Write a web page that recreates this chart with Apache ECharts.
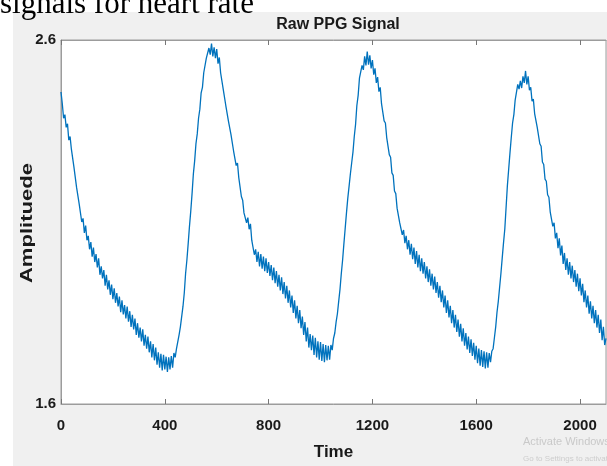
<!DOCTYPE html>
<html>
<head>
<meta charset="utf-8">
<script src="https://cdn.jsdelivr.net/npm/echarts@6/dist/echarts.min.js"></script>
<style>
html,body{margin:0;padding:0;background:#fff;}
#chart{width:607px;height:466px;}
</style>
</head>
<body>
<div id="chart"></div>
<script>
const timeStep = 5;
const timeTicks = [0, 400, 800, 1200, 1600, 2000];
const ampTicks = [1.6, 2.6];
// Beat 1: decay from start to first trough (t = 0 .. 495)
const ampSeg1 = [
  2.457, 2.425, 2.385, 2.395, 2.36, 2.37, 2.325, 2.335, 2.30, 2.305,
  2.25, 2.255, 2.195, 2.20, 2.15, 2.15, 2.10, 2.11, 2.07, 2.09,
  2.05, 2.062, 2.025, 2.045, 2.005, 2.03, 1.99, 2.012, 1.975, 2.0,
  1.955, 1.978, 1.945, 1.968, 1.925, 1.955, 1.915, 1.94, 1.90, 1.928,
  1.888, 1.918, 1.878, 1.905, 1.868, 1.895, 1.852, 1.885, 1.846, 1.872,
  1.835, 1.868, 1.826, 1.855, 1.812, 1.845, 1.805, 1.835, 1.79, 1.822,
  1.782, 1.81, 1.772, 1.805, 1.76, 1.79, 1.752, 1.785, 1.742, 1.772,
  1.728, 1.765, 1.72, 1.755, 1.708, 1.742, 1.70, 1.738, 1.692, 1.735,
  1.695, 1.73, 1.688, 1.728, 1.695, 1.732, 1.70, 1.74, 1.728, 1.752,
  1.755, 1.79, 1.812, 1.84, 1.868, 1.905, 1.958, 1.995, 2.04, 2.088
];
// Beat 2: rise, first peak, decay (t = 500 .. 1095)
const ampSeg2 = [
  2.13, 2.178, 2.232, 2.268, 2.315, 2.342, 2.385, 2.41, 2.455, 2.47,
  2.51, 2.505, 2.55, 2.545, 2.578, 2.56, 2.59, 2.555, 2.58, 2.55,
  2.575, 2.535, 2.552, 2.51, 2.512, 2.465, 2.47, 2.42, 2.425, 2.378,
  2.382, 2.34, 2.345, 2.295, 2.298, 2.255, 2.262, 2.222, 2.225, 2.17,
  2.16, 2.125, 2.13, 2.098, 2.112, 2.08, 2.095, 2.05, 2.052, 2.01,
  2.025, 1.99, 2.018, 1.978, 2.012, 1.972, 2.005, 1.965, 2.0, 1.96,
  1.99, 1.952, 1.982, 1.94, 1.975, 1.932, 1.965, 1.922, 1.955, 1.912,
  1.948, 1.902, 1.935, 1.89, 1.925, 1.878, 1.912, 1.865, 1.898, 1.85,
  1.885, 1.835, 1.87, 1.822, 1.858, 1.808, 1.84, 1.79, 1.825, 1.772,
  1.81, 1.755, 1.792, 1.748, 1.788, 1.735, 1.782, 1.728, 1.772, 1.722,
  1.77, 1.718, 1.765, 1.715, 1.762, 1.72, 1.76, 1.722, 1.762, 1.748,
  1.78, 1.795, 1.825, 1.848, 1.882, 1.915, 1.958, 1.995, 2.04, 2.082
];
// Beat 3: rise, second peak, decay (t = 1100 .. 1695)
const ampSeg3 = [
  2.125, 2.165, 2.198, 2.232, 2.262, 2.292, 2.335, 2.368, 2.42, 2.448,
  2.495, 2.49, 2.53, 2.518, 2.555, 2.53, 2.568, 2.532, 2.558, 2.522,
  2.545, 2.505, 2.522, 2.482, 2.498, 2.458, 2.47, 2.425, 2.42, 2.378,
  2.372, 2.332, 2.328, 2.285, 2.278, 2.235, 2.228, 2.185, 2.178, 2.138,
  2.135, 2.098, 2.10, 2.065, 2.078, 2.042, 2.062, 2.025, 2.05, 2.01,
  2.04, 1.998, 2.03, 1.985, 2.02, 1.975, 2.01, 1.965, 2.0, 1.958,
  1.99, 1.945, 1.978, 1.935, 1.97, 1.925, 1.958, 1.915, 1.95, 1.905,
  1.935, 1.892, 1.925, 1.88, 1.912, 1.865, 1.898, 1.85, 1.885, 1.838,
  1.87, 1.822, 1.858, 1.81, 1.845, 1.798, 1.832, 1.785, 1.82, 1.772,
  1.808, 1.76, 1.795, 1.75, 1.785, 1.74, 1.778, 1.732, 1.768, 1.722,
  1.76, 1.712, 1.752, 1.705, 1.748, 1.702, 1.745, 1.698, 1.742, 1.70,
  1.74, 1.715, 1.745, 1.752, 1.782, 1.812, 1.852, 1.882, 1.92, 1.958
];
// Beat 4: rise, third peak, decay to the end (t = 1700 .. 2100)
const ampSeg4 = [
  2.0, 2.042, 2.08, 2.14, 2.2, 2.245, 2.29, 2.332, 2.372, 2.395,
  2.435, 2.44, 2.478, 2.465, 2.488, 2.468, 2.5, 2.482, 2.515, 2.478,
  2.5, 2.462, 2.47, 2.432, 2.438, 2.398, 2.398, 2.36, 2.358, 2.315,
  2.308, 2.265, 2.258, 2.218, 2.212, 2.175, 2.168, 2.128, 2.125, 2.088,
  2.098, 2.055, 2.07, 2.028, 2.055, 2.008, 2.035, 1.985, 2.015, 1.968,
  2.0, 1.955, 1.99, 1.945, 1.98, 1.935, 1.968, 1.922, 1.958, 1.91,
  1.945, 1.898, 1.93, 1.88, 1.912, 1.865, 1.898, 1.848, 1.882, 1.835,
  1.87, 1.822, 1.858, 1.81, 1.845, 1.795, 1.832, 1.775, 1.812, 1.762,
  1.78
];
const amplitude = ampSeg1.concat(ampSeg2, ampSeg3, ampSeg4);
const seriesData = amplitude.map((v, i) => [i * timeStep, v]);

const chart = echarts.init(document.getElementById('chart'), null, {renderer: 'canvas'});
const sans = "'Liberation Sans', Arial, sans-serif";
const boxColor = '#9c9c9c';

chart.setOption({
  animation: false,
  backgroundColor: '#ffffff',
  title: {
    text: 'Raw PPG Signal',
    left: 333, top: 12, textAlign: 'center',
    textStyle: {fontFamily: sans, fontWeight: 'bold', fontSize: 16, color: '#1a1a1a'}
  },
  graphic: [
    {type: 'rect', z: -10, shape: {x: 13, y: 12, width: 600, height: 460}, style: {fill: '#f0f0f0'}},
    {type: 'text', z: 5, x: 0, y: 5, style: {text: 'signals for heart rate', font: "31px 'Liberation Serif', 'Times New Roman', serif", fill: '#000', textVerticalAlign: 'middle', textAlign: 'left'}},
    {type: 'text', z: 5, x: 27.5, y: 223, rotation: Math.PI / 2, scaleX: 1.38, scaleY: 1,
      style: {text: 'Amplituede', font: "bold 16px " + sans, fill: '#1a1a1a', textAlign: 'center', textVerticalAlign: 'middle'}},
    {type: 'text', z: 5, x: 523, y: 442, style: {text: 'Activate Windows', font: "11px " + sans, fill: '#c9c9c9', textVerticalAlign: 'middle'}},
    {type: 'text', z: 5, x: 523, y: 459, style: {text: 'Go to Settings to activate Windows.', font: "8px " + sans, fill: '#cdcdcd', textVerticalAlign: 'middle'}}
  ],
  grid: {left: 61, right: 1, top: 40, bottom: 55, show: true, backgroundColor: '#ffffff', borderColor: boxColor, borderWidth: 1},
  xAxis: [
    {
      type: 'value', min: 0, max: 2100, interval: 400, position: 'bottom',
      name: 'Time', nameLocation: 'middle', nameGap: 40,
      nameTextStyle: {fontFamily: sans, fontWeight: 'bold', fontSize: 17, color: '#1a1a1a'},
      axisLine: {show: true, lineStyle: {color: boxColor, width: 1}},
      axisTick: {show: true, inside: true, length: 5, lineStyle: {color: '#777'}, customValues: timeTicks},
      axisLabel: {show: true, margin: 14, fontFamily: sans, fontWeight: 'bold', fontSize: 15, color: '#1a1a1a',
        customValues: timeTicks, formatter: v => String(v)},
      splitLine: {show: false}
    },
    {
      type: 'value', min: 0, max: 2100, interval: 400, position: 'top',
      axisLine: {show: true, lineStyle: {color: boxColor, width: 1}},
      axisTick: {show: true, inside: true, length: 5, lineStyle: {color: '#777'}, customValues: timeTicks},
      axisLabel: {show: false},
      splitLine: {show: false}
    }
  ],
  yAxis: {
    type: 'value', min: 1.6, max: 2.6,
    axisLine: {show: true, lineStyle: {color: boxColor, width: 1}},
    axisTick: {show: false},
    axisLabel: {show: true, margin: 5, fontFamily: sans, fontWeight: 'bold', fontSize: 15, color: '#1a1a1a',
      customValues: ampTicks, formatter: v => v.toFixed(1), verticalAlign: 'middle', padding: [8, 0, 0, 0]},
    splitLine: {show: false}
  },
  series: [{
    type: 'line', xAxisIndex: 0, data: seriesData, showSymbol: false, symbol: 'none',
    lineStyle: {color: '#0072BD', width: 1.3}, clip: true
  }]
});
</script>
</body>
</html>
